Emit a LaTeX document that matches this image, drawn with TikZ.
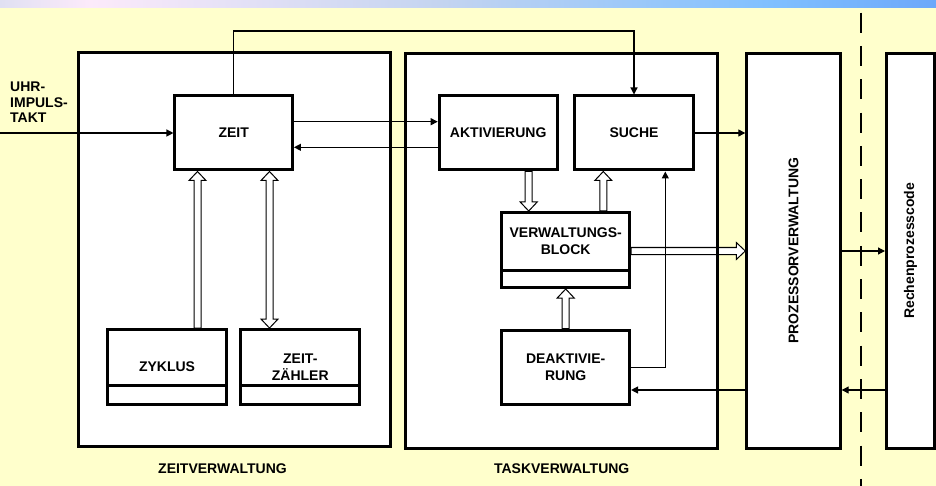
\documentclass[tikz,border=0pt]{standalone}
\usepackage{fontspec}
\usepackage{graphicx}
\setmainfont{Liberation Sans}
\usetikzlibrary{arrows.meta,calc}
\definecolor{bgyellow}{RGB}{255,255,204}
\definecolor{gA}{RGB}{224,224,242}
\definecolor{gB}{RGB}{252,234,250}
\definecolor{gC}{RGB}{196,212,240}
\definecolor{gD}{RGB}{128,192,255}
\definecolor{gE}{RGB}{108,168,250}
\pgfdeclarehorizontalshading{topbar}{100bp}{color(0bp)=(gA); color(25bp)=(gA); color(29.8bp)=(gB); color(48.5bp)=(gC); color(66.1bp)=(gD); color(75bp)=(gE); color(100bp)=(gE)}
\pgfdeclarelayer{bg}
\pgfdeclarelayer{mid}
\pgfsetlayers{bg,mid,main}
% hollow arrows (canvas coordinates)
\newcommand\hollowup[2]{\path[hol] let \p1=(#1), \p2=(#2) in
  (\x1-3.5pt,\y1) -- (\x1-3.5pt,\y2-9pt) -- (\x1-8.5pt,\y2-9pt) -- (\x1,\y2)
  -- (\x1+8.5pt,\y2-9pt) -- (\x1+3.5pt,\y2-9pt) -- (\x1+3.5pt,\y1) -- cycle;}
\newcommand\hollowdown[2]{\path[hol] let \p1=(#1), \p2=(#2) in
  (\x1-3.5pt,\y1) -- (\x1-3.5pt,\y2+9pt) -- (\x1-8.5pt,\y2+9pt) -- (\x1,\y2)
  -- (\x1+8.5pt,\y2+9pt) -- (\x1+3.5pt,\y2+9pt) -- (\x1+3.5pt,\y1) -- cycle;}
\newcommand\hollowboth[2]{\path[hol] let \p1=(#1), \p2=(#2) in
  (\x1,\y1) -- (\x1-8.5pt,\y1+9pt) -- (\x1-3.5pt,\y1+9pt) -- (\x1-3.5pt,\y2-9pt)
  -- (\x1-8.5pt,\y2-9pt) -- (\x1,\y2) -- (\x1+8.5pt,\y2-9pt) -- (\x1+3.5pt,\y2-9pt)
  -- (\x1+3.5pt,\y1+9pt) -- (\x1+8.5pt,\y1+9pt) -- cycle;}
\newcommand\hollowright[2]{\path[hol] let \p1=(#1), \p2=(#2) in
  (\x1,\y1+3.5pt) -- (\x2-9pt,\y1+3.5pt) -- (\x2-9pt,\y1+8.5pt) -- (\x2,\y1)
  -- (\x2-9pt,\y1-8.5pt) -- (\x2-9pt,\y1-3.5pt) -- (\x1,\y1-3.5pt) -- cycle;}
\begin{document}
\begin{tikzpicture}[x=1pt,y=-1pt,
  lbl/.style={font=\fontsize{14}{15.5}\selectfont\bfseries},
  bigbox/.style={draw, line width=3pt, inner sep=0pt, lbl},
  blk/.style={draw, line width=3pt, fill=white, inner sep=0pt, align=center,
    font=\fontsize{14}{17}\selectfont\bfseries},
  arr/.style={line width=1.2pt, -{Triangle[length=7pt,width=7pt]}},
  hol/.style={draw, fill=white, line width=1pt, line join=miter},
  divline/.style={line width=3pt},
  sepline/.style={line width=2pt, dash pattern=on 20pt off 13.3pt}
]
\useasboundingbox (0,0) rectangle (936,486);

% big frames
\node[bigbox, minimum width=312.3pt, minimum height=394.6pt] (zv) at (234.35,249.5) {};
\node[bigbox, minimum width=312pt, minimum height=394.9pt] (tv) at (561.2,250.75) {};
\node[bigbox, minimum width=93.4pt, minimum height=394.7pt] (proz) at (793.5,250.85) {\rotatebox{90}{PROZESSORVERWALTUNG}};
\node[bigbox, minimum width=48.2pt, minimum height=394.5pt] (rech) at (910.6,250.75) {\rotatebox{90}{Rechenprozesscode}};

% inner blocks
\node[blk, minimum width=117.5pt, minimum height=74pt] (zeit) at (233.7,133) {ZEIT};
\node[blk, minimum width=118pt, minimum height=74pt] (akt) at (498.2,133) {AKTIVIERUNG};
\node[blk, minimum width=119pt, minimum height=74pt] (suche) at (634,133) {SUCHE};
\node[blk, minimum width=127.7pt, minimum height=75pt] (vb) at (565.7,250) {};
\node[blk, draw=none, fill=none] (vbt) at (565.7,241.6) {VERWALTUNGS-\\BLOCK};
\node[blk, minimum width=127.7pt, minimum height=74.6pt] (deak) at (565.7,367.5) {DEAKTIVIE-\\RUNG};
\node[blk, minimum width=119pt, minimum height=74.7pt] (zyk) at (167,366.9) {ZYKLUS};
\node[blk, minimum width=119pt, minimum height=74.7pt] (zz) at (300.3,366.9) {ZEIT-\\Z\"AHLER};
\draw[divline] (vb.west |- 0,270.8) -- (vb.east |- 0,270.8);
\draw[divline] (zyk.west |- 0,385.5) -- (zyk.east |- 0,385.5);
\draw[divline] (zz.west |- 0,385.5) -- (zz.east |- 0,385.5);

% labels
\node[lbl] (zvl) at (222.5,468.3) {ZEITVERWALTUNG};
\node[lbl] (tvl) at (561.7,469) {TASKVERWALTUNG};
\node[lbl, anchor=west, align=left, inner sep=0pt] (uhrl) at (10,102.5) {UHR-\\IMPULS-\\TAKT};

% background
\begin{pgfonlayer}{bg}
  \fill[bgyellow] (0,0) rectangle (936,486);
  \shade[shading=topbar] (0,0) rectangle (936,8);
  \fill[white] (zv.south west) rectangle (zv.north east);
  \fill[white] (tv.south west) rectangle (tv.north east);
  \fill[white] (proz.south west) rectangle (proz.north east);
  \fill[white] (rech.south west) rectangle (rech.north east);
\end{pgfonlayer}

% connectors
\begin{pgfonlayer}{mid}
  \hollowup{197.5,0 |- zyk.north}{197.5,0 |- zeit.south}
  \hollowboth{269.5,0 |- zz.north}{269.5,0 |- zeit.south}
  \hollowdown{528.7,0 |- akt.south}{528.7,0 |- vb.north}
  \hollowup{603.3,0 |- vb.north}{603.3,0 |- suche.south}
  \hollowup{deak.north}{vb.south}
  \hollowright{vb.east |- 0,251}{proz.west |- 0,251}

  \coordinate (uhr) at (0,133);
  \draw[arr] (uhr) -- (zeit.west);
  \draw[arr] (zeit.east |- 0,121.7) -- (akt.west |- 0,121.7);
  \draw[arr] (akt.west |- 0,147.3) -- (zeit.east |- 0,147.3);
  \draw[arr] (zeit.north) -- (zeit.north |- 0,31) -| (suche.north);
  \draw[arr] (suche.east) -- (proz.west |- suche.east);
  \draw[arr] (deak.east) -| ([xshift=31.3pt]suche.south);
  \draw[arr] (proz.west |- 0,390) -- (deak.east |- 0,390);
  \draw[arr] (proz.east |- 0,251) -- (rech.west |- 0,251);
  \draw[arr] (rech.west |- 0,390) -- (proz.east |- 0,390);
\end{pgfonlayer}

% separator
\coordinate (sepT) at (861,12.7);
\coordinate (sepB) at (861,486);
\draw[sepline] (sepT) -- (sepB);
\end{tikzpicture}
\end{document}
